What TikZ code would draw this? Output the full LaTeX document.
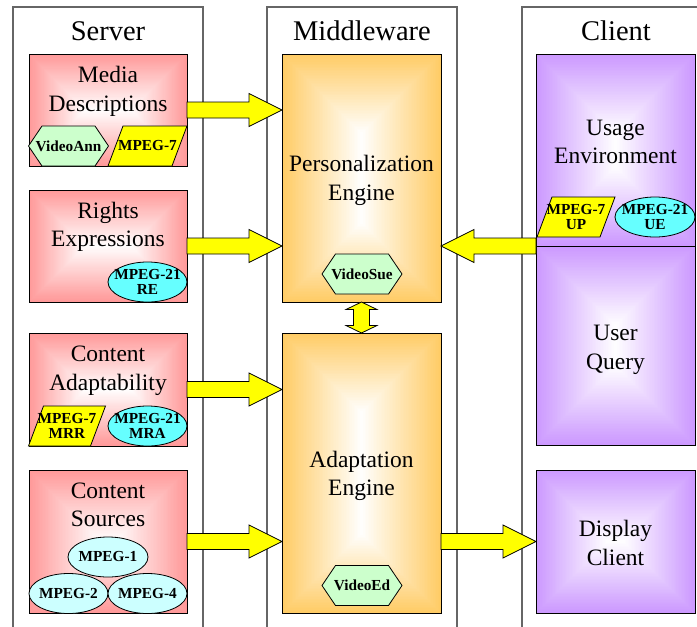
\documentclass[tikz,border=0pt]{standalone}
\usepackage{fontspec}
\setmainfont{Liberation Serif}
\usetikzlibrary{calc,shapes.geometric,shapes.symbols}
\definecolor{pinkc}{HTML}{FF9999}
\definecolor{orangec}{HTML}{FFCC66}
\definecolor{purplec}{HTML}{CC99FF}
\definecolor{cyanc}{HTML}{66FFFF}
\definecolor{lcyan}{HTML}{CCFFFF}
\definecolor{lgreen}{HTML}{CCFFCC}
\definecolor{yelc}{HTML}{FFFF00}
\newcommand\twol[1]{\begin{tabular}[t]{@{}c@{}}#1\end{tabular}}
\newcommand\harrow[2]{%
  \draw[blk] let \p1=(#1), \p2=(#2), \p3=($(#2)!33pt!(#1)$) in
    (\x1,\y1+8pt) -- (\x3,\y1+8pt) -- (\x3,\y1+16.5pt) -- (\x2,\y2)
    -- (\x3,\y1-16.5pt) -- (\x3,\y1-8pt) -- (\x1,\y1-8pt) -- cycle;}
\newcommand\paral[1]{%
  \draw[parad] ($(#1.south west)+(-7.5pt,0pt)$) -- ($(#1.north west)+(7.5pt,0pt)$)
    -- ($(#1.north east)+(7.5pt,0pt)$) -- ($(#1.south east)+(-7.5pt,0pt)$) -- cycle;}
\tikzset{
  col/.style={draw=black!60, line width=1.3pt, fill=white, outer sep=0pt, inner sep=0pt},
  ttl/.style={font=\fontsize{28.5}{34}\selectfont, anchor=base, inner sep=0pt},
  btxt/.style={font=\fontsize{23.5}{28.5}\selectfont, anchor=base, inner sep=0pt},
  stxt/.style={font=\fontsize{15.3}{15}\selectfont\bfseries, align=center, inner sep=0pt},
  gbox/.style={draw=black, line width=0.8pt, outer sep=0pt, inner sep=0pt,
    path picture={%
      \pgfpointdiff{\pgfpointanchor{path picture bounding box}{south west}}{\pgfpointanchor{path picture bounding box}{north east}}%
      \pgfgetlastxy{\gw}{\gh}%
      \pgfmathsetmacro{\gm}{min(abs(\gw),abs(\gh))/2}%
      \foreach \k in {0,...,50}{%
        \pgfmathsetmacro{\gi}{\gm*\k/50}%
        \pgfmathtruncatemacro{\gp}{100-2*\k}%
        \fill[#1!\gp!white] ([shift={(\gi pt,-\gi pt)}]path picture bounding box.north west) rectangle ([shift={(-\gi pt,\gi pt)}]path picture bounding box.south east);
      }%
    }},
  hexa/.style={signal, signal to=east and west, signal pointer angle=112, draw=black, fill=lgreen, line width=0.8pt, inner sep=0pt, outer sep=0pt, minimum width=80, minimum height=40},
  parab/.style={rectangle, inner sep=0pt, outer sep=0pt, minimum height=40},
  parad/.style={draw=black, fill=yelc, line width=0.8pt, line join=miter},
  ell/.style={ellipse, draw=black, fill=#1, line width=0.8pt, inner sep=0pt, outer sep=0pt, minimum width=79, minimum height=40},
  blk/.style={draw=black, fill=yelc, line width=0.8pt, line join=miter},
}
\begin{document}
\begin{tikzpicture}[x=1pt,y=-1pt]
\useasboundingbox (0,0) rectangle (697,627);
\clip (0,0) rectangle (697,627);
% columns
\node[col, minimum width=190, minimum height=700, anchor=north] (scol) at (108,7) {};
\node[col, minimum width=190, minimum height=700, anchor=north] (mcol) at (362,7) {};
\node[col, minimum width=190, minimum height=700, anchor=north] (ccol) at (617,7) {};
\node[ttl] (st) at (108,40) {Server};
\node[ttl] (mt) at (362,40) {Middleware};
\node[ttl] (ct) at (616,40) {Client};
% server boxes
\node[gbox=pinkc, minimum width=158, minimum height=112] (md) at (108,110) {};
\node[gbox=pinkc, minimum width=158, minimum height=112] (re) at (108,246) {};
\node[gbox=pinkc, minimum width=158, minimum height=113] (ca) at (108,389.5) {};
\node[gbox=pinkc, minimum width=158, minimum height=143] (cs) at (108,541.5) {};
% middleware boxes
\node[gbox=orangec, minimum width=159, minimum height=248] (pe) at (361.5,178) {};
\node[gbox=orangec, minimum width=159, minimum height=280] (ae) at (361.5,473) {};
% client boxes
\node[gbox=purplec, minimum width=159, minimum height=192] (ue) at (615.5,150) {};
\node[gbox=purplec, minimum width=159, minimum height=199] (uq) at (615.5,345.5) {};
\node[gbox=purplec, minimum width=159, minimum height=143] (dc) at (615.5,541.5) {};
% box texts
\node[btxt] (mdt) at (108,82.7) {\twol{Media\\Descriptions}};
\node[btxt] (ret) at (108,218) {\twol{Rights\\Expressions}};
\node[btxt] (cat) at (108,361.7) {\twol{Content\\Adaptability}};
\node[btxt] (cst) at (108,498) {\twol{Content\\Sources}};
\node[btxt] (pet) at (361.5,171.7) {\twol{Personalization\\Engine}};
\node[btxt] (aet) at (361.5,467.3) {\twol{Adaptation\\Engine}};
\node[btxt] (uet) at (615.5,135) {\twol{Usage\\Environment}};
\node[btxt] (uqt) at (615.5,340.7) {\twol{User\\Query}};
\node[btxt] (dct) at (615.5,536.7) {\twol{Display\\Client}};
% arrows
\harrow{md.east}{pe.west |- md.east}
\harrow{re.east}{pe.west |- re.east}
\harrow{ca.east}{ae.west |- ca.east}
\harrow{cs.east}{ae.west |- cs.east}
\harrow{ue.south west}{pe.east |- ue.south west}
\harrow{ae.east |- dc.west}{dc.west}
\draw[blk] let \p1=(pe.south), \p2=(ae.north) in
  (\x1-8pt,\y1-7.5pt) -- (\x1-15.5pt,\y1-7.5pt) -- (\x1,\y1) -- (\x1+15.5pt,\y1-7.5pt)
  -- (\x1+8pt,\y1-7.5pt) -- (\x1+8pt,\y2+7.5pt) -- (\x1+15.5pt,\y2+7.5pt) -- (\x1,\y2)
  -- (\x1-15.5pt,\y2+7.5pt) -- (\x1-8pt,\y2+7.5pt) -- cycle;
% small shapes
\node[hexa] (va) at (68.5,146) {};
\node[stxt] (vat) at (va) {VideoAnn};
\node[parab, minimum width=64] (m7) at (147.5,146) {};
\paral{m7}
\node[stxt] (m7t) at (m7) {MPEG-7};
\node[ell=cyanc] (m21re) at (147.5,282) {};
\node[stxt] (m21ret) at (m21re) {MPEG-21\\RE};
\node[parab, minimum width=62] (m7mrr) at (67,426) {};
\paral{m7mrr}
\node[stxt] (m7mrrt) at (m7mrr) {MPEG-7\\MRR};
\node[ell=cyanc] (m21mra) at (147.5,426) {};
\node[stxt] (m21mrat) at (m21mra) {MPEG-21\\MRA};
\node[ell=lcyan, minimum width=80] (m1) at (108,557) {};
\node[stxt] (m1t) at (m1) {MPEG-1};
\node[ell=lcyan] (m2) at (68.5,593.5) {};
\node[stxt] (m2t) at (m2) {MPEG-2};
\node[ell=lcyan] (m4) at (147.5,593.5) {};
\node[stxt] (m4t) at (m4) {MPEG-4};
\node[hexa] (vs) at (362,274) {};
\node[stxt] (vst) at (vs) {VideoSue};
\node[hexa] (ve) at (362,585.5) {};
\node[stxt] (vet) at (ve) {VideoEd};
\node[parab, minimum width=63] (m7up) at (576,217) {};
\paral{m7up}
\node[stxt] (m7upt) at (m7up) {MPEG-7\\UP};
\node[ell=cyanc, minimum width=80] (m21ue) at (655,217) {};
\node[stxt] (m21uet) at (m21ue) {MPEG-21\\UE};
\end{tikzpicture}
\end{document}
